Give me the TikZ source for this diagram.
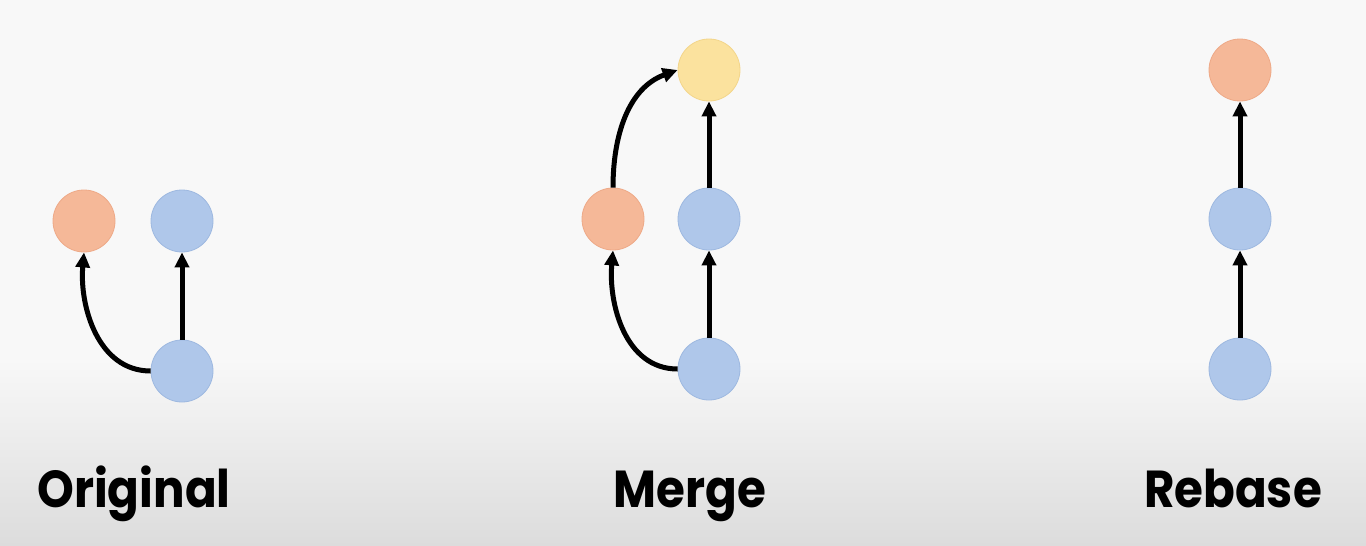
\documentclass[tikz,border=0pt]{standalone}
\usepackage{fontspec}
\setmainfont{Poppins}
\newfontfamily\lblfont{Poppins}[FakeStretch=0.9]
\usetikzlibrary{arrows.meta}
\definecolor{bgtop}{HTML}{F8F8F8}
\definecolor{bgbot}{HTML}{DCDCDC}
\definecolor{cblue}{HTML}{AFC7EA}
\definecolor{cbluel}{HTML}{9DB8E0}
\definecolor{corange}{HTML}{F5B898}
\definecolor{corangel}{HTML}{EEA987}
\definecolor{cyellow}{HTML}{FBE29E}
\definecolor{cyellowl}{HTML}{F3D58A}
\tikzset{
  commit/.style={circle, minimum size=62pt, inner sep=0pt, line width=0.8pt},
  bluec/.style={commit, fill=cblue, draw=cbluel},
  orangec/.style={commit, fill=corange, draw=corangel},
  yellowc/.style={commit, fill=cyellow, draw=cyellowl},
  conn/.style={line width=5pt, -{Triangle[length=15pt,width=14pt]}},
  lbl/.style={font=\lblfont\bfseries\fontsize{52}{58}\selectfont, text=black, inner sep=0pt, anchor=base}
}
\begin{document}
\begin{tikzpicture}[x=1pt,y=-1pt]
\useasboundingbox (0,0) rectangle (1366,546);
\fill[bgtop] (0,0) rectangle (1366,360);
\shade[top color=bgtop, bottom color=bgbot] (0,359.5) rectangle (1366,546);
% Original
\node[orangec] (o1) at (84,221) {};
\node[bluec] (o2) at (182,221) {};
\node[bluec] (o3) at (182,371) {};
\draw[conn] (o3.west) to[out=180,in=-95] (o1.south);
\draw[conn] (o3.north) -- (o2.south);
% Merge
\node[yellowc] (m4) at (709,70) {};
\node[orangec] (m1) at (613,219) {};
\node[bluec] (m2) at (709,219) {};
\node[bluec] (m3) at (709,369) {};
\draw[conn] (m3.west) to[out=180,in=-95] (m1.south);
\draw[conn] (m3.north) -- (m2.south);
\draw[conn] (m2.north) -- (m4.south);
\draw[conn] (m1.north) to[out=90,in=200] (m4.west);
% Rebase
\node[orangec] (r3) at (1240,70) {};
\node[bluec] (r2) at (1240,219) {};
\node[bluec] (r1) at (1240,369) {};
\draw[conn] (r1.north) -- (r2.south);
\draw[conn] (r2.north) -- (r3.south);
% Labels
\node[lbl] (l1) at (134,507) {Original};
\node[lbl] (l2) at (690,507) {Merge};
\node[lbl] (l3) at (1233,507) {Rebase};
\end{tikzpicture}
\end{document}
